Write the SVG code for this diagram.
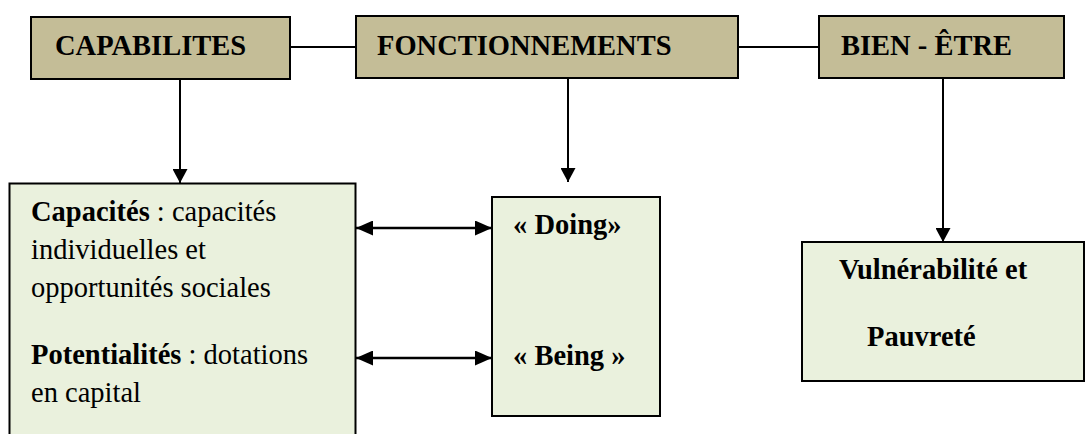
<svg xmlns="http://www.w3.org/2000/svg" width="1086" height="434" viewBox="0 0 1086 434">
<style>
.hdr{fill:#C4BD97;stroke:#000;stroke-width:2}
.body{fill:#EAF1DD;stroke:#000;stroke-width:2}
.t{font-family:'Times New Roman',Tinos,'Liberation Serif','DejaVu Serif','Noto Serif',serif;font-size:28.5px;fill:#000}
.b{font-weight:bold}
.conn{stroke:#000;stroke-width:2;fill:none}
.dbl{stroke:#000;stroke-width:2.6;fill:none}
</style>
<defs>
<marker id="ah" markerUnits="userSpaceOnUse" viewBox="0 0 14 15" refX="14" refY="7.5" markerWidth="14" markerHeight="15" orient="auto-start-reverse">
<path d="M0,0 L14,7.5 L0,15 Z" fill="#000"/>
</marker>
<marker id="ah2" markerUnits="userSpaceOnUse" viewBox="0 0 17 15" refX="17" refY="7.5" markerWidth="17" markerHeight="15" orient="auto-start-reverse">
<path d="M0,0 L17,7.5 L0,15 Z" fill="#000"/>
</marker>
</defs>
<g id="connectors">
<line class="conn" x1="290" y1="47" x2="356" y2="47"/>
<line class="conn" x1="738" y1="47" x2="819" y2="47"/>
<line class="conn" x1="180" y1="79" x2="180" y2="183" marker-end="url(#ah)"/>
<line class="conn" x1="568" y1="78" x2="568" y2="182" marker-end="url(#ah)"/>
<line class="conn" x1="943" y1="78" x2="943" y2="242" marker-end="url(#ah)"/>
<line class="dbl" x1="356" y1="228" x2="492" y2="228" marker-start="url(#ah2)" marker-end="url(#ah2)"/>
<line class="dbl" x1="356" y1="358" x2="492" y2="358" marker-start="url(#ah2)" marker-end="url(#ah2)"/>
</g>
<g id="capabilites">
<rect class="hdr" x="31" y="17" width="259" height="62"/>
<text class="t b" x="55" y="55">CAPABILITES</text>
</g>
<g id="fonctionnements">
<rect class="hdr" x="356" y="16" width="382" height="62"/>
<text class="t b" x="377" y="55">FONCTIONNEMENTS</text>
</g>
<g id="bien-etre">
<rect class="hdr" x="819" y="16" width="245" height="62"/>
<text class="t b" x="841" y="55">BIEN - ÊTRE</text>
</g>
<g id="capacites">
<rect class="body" x="9.5" y="183.5" width="346" height="270"/>
<text class="t" x="31" y="221"><tspan class="b">Capacités</tspan> : capacités</text>
<text class="t" x="31" y="259">individuelles et</text>
<text class="t" x="31" y="297">opportunités sociales</text>
<text class="t" x="31" y="364"><tspan class="b">Potentialités</tspan> : dotations</text>
<text class="t" x="31" y="402">en capital</text>
</g>
<g id="doing-being">
<rect class="body" x="492" y="197" width="168" height="219"/>
<text class="t b" x="513" y="234">« Doing»</text>
<text class="t b" x="513" y="365">« Being »</text>
</g>
<g id="vulnerabilite">
<rect class="body" x="802" y="242" width="282" height="139"/>
<text class="t b" x="839" y="279">Vulnérabilité et</text>
<text class="t b" x="867" y="346">Pauvreté</text>
</g>
</svg>
